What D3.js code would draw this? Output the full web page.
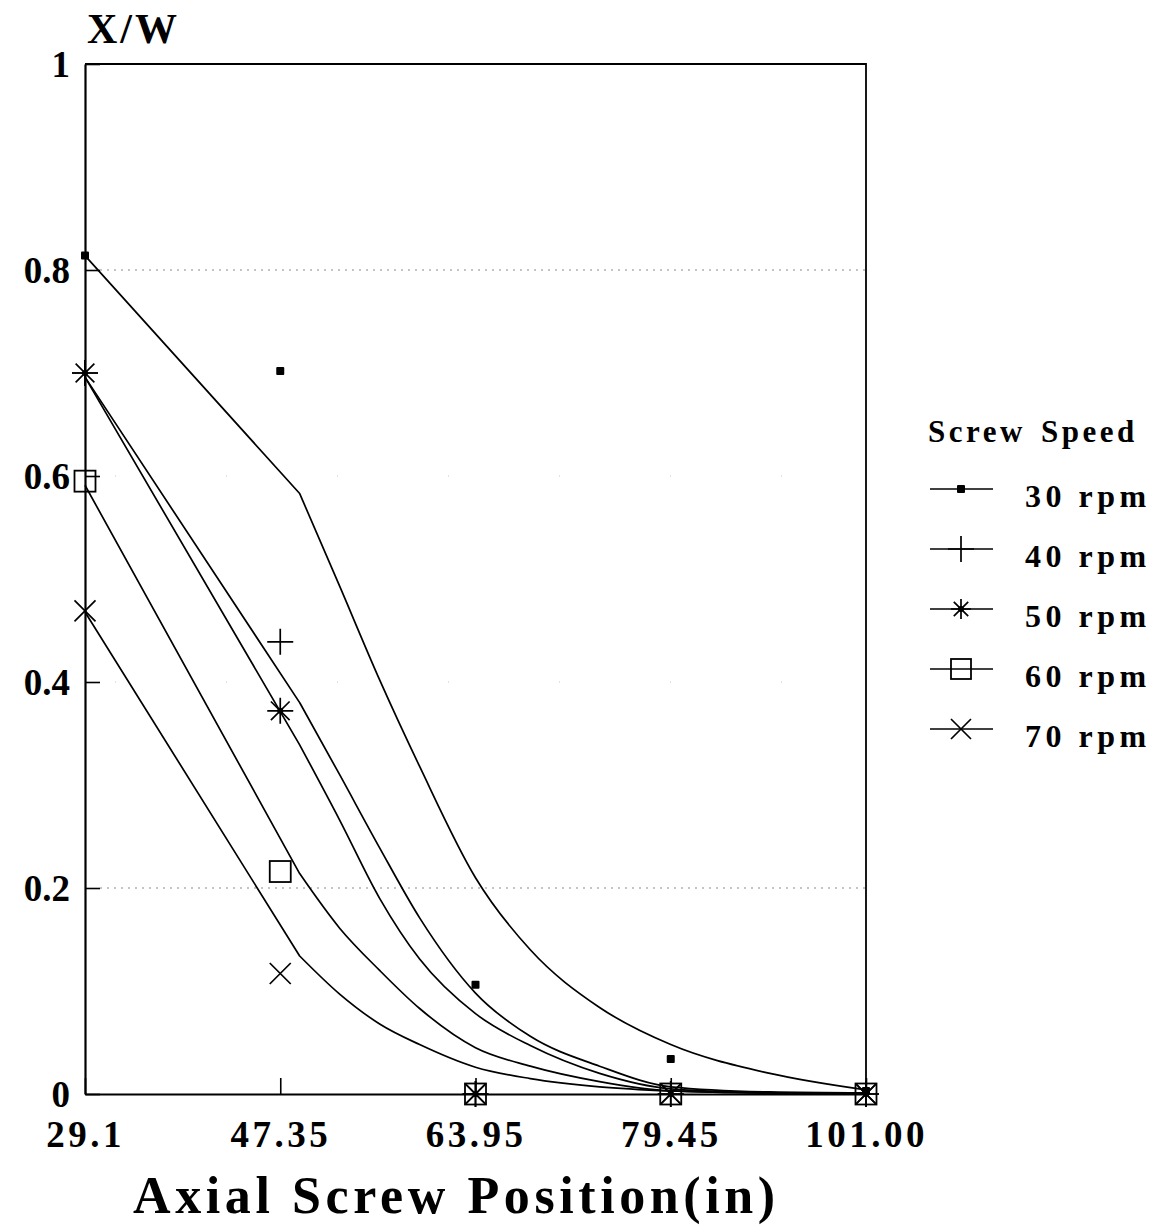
<!DOCTYPE html>
<html>
<head>
<meta charset="utf-8">
<script src="https://cdn.jsdelivr.net/npm/d3@7"></script>
<style>
  body { margin: 0; background: #fff; }
  svg { display: block; }
  text { font-family: "Liberation Serif", "Times New Roman", serif; font-weight: bold; fill: #000; }
</style>
</head>
<body>
<svg id="chart" width="1155" height="1229"></svg>
<script>
// Sampling positions along the screw (inches) and their axis labels
const positions = [29.1, 47.35, 63.95, 79.45, 101.00];
const positionLabels = ["29.1", "47.35", "63.95", "79.45", "101.00"];

// Legend entries
const speeds = ["30 rpm", "40 rpm", "50 rpm", "60 rpm", "70 rpm"];
const markerTypes = ["dot", "plus", "star", "square", "cross"];

// Measured X/W at each sampling position
const measured30 = [0.814, 0.702, 0.106, 0.034, 0.003];
const measured40 = [0.700, 0.439, 0.000, 0.000, 0.000];
const measured50 = [0.700, 0.372, 0.000, 0.000, 0.000];
const measured60 = [0.595, 0.216, 0.000, 0.000, 0.000];
const measured70 = [0.469, 0.117, 0.000, 0.000, 0.000];

// Model prediction, evaluated along the screw (linear up to 49 in, then decaying)
const modelX = [29.1, 49.0, 52.4, 55.8, 59.2, 63.95, 68.3, 73.8, 79.45, 90.4, 101.0];
const model30 = [0.814, 0.583, 0.493, 0.402, 0.318, 0.210, 0.140, 0.084, 0.048, 0.020, 0.004];
const model40 = [0.696, 0.380, 0.310, 0.239, 0.171, 0.098, 0.056, 0.027, 0.007, 0.002, 0.001];
const model50 = [0.696, 0.339, 0.266, 0.190, 0.131, 0.078, 0.047, 0.020, 0.005, 0.001, 0.000];
const model60 = [0.591, 0.214, 0.161, 0.120, 0.083, 0.045, 0.027, 0.012, 0.003, 0.001, 0.000];
const model70 = [0.468, 0.134, 0.097, 0.068, 0.048, 0.026, 0.015, 0.007, 0.003, 0.001, 0.000];

const yTicks = [0, 0.2, 0.4, 0.6, 0.8, 1];
const yTickLabels = ["0", "0.2", "0.4", "0.6", "0.8", "1"];
const gridValues = [0.2, 0.8];
const faintGridValues = [0.4, 0.6];

const measured = [measured30, measured40, measured50, measured60, measured70];
const models = [model30, model40, model50, model60, model70];

const svg = d3.select("#chart");
const plot = { left: 85, right: 866, top: 64, bottom: 1094 };

// Sampling positions are spaced evenly along the axis
const step = (plot.right - plot.left) / (positions.length - 1);
const x = d3.scaleLinear()
  .domain(positions)
  .range(positions.map((_, i) => plot.left + i * step));
const y = d3.scaleLinear().domain([0, 1]).range([plot.bottom, plot.top]);

// Dotted grid lines
svg.append("g").selectAll("line").data(gridValues).join("line")
  .attr("x1", plot.left + 15).attr("x2", plot.right)
  .attr("y1", d => y(d)).attr("y2", d => y(d))
  .attr("stroke", "#8a8a8a").attr("stroke-width", 1.2)
  .attr("stroke-dasharray", "2,5");
svg.append("g").selectAll("line").data(faintGridValues).join("line")
  .attr("x1", plot.left + 30).attr("x2", plot.right)
  .attr("y1", d => y(d)).attr("y2", d => y(d))
  .attr("stroke", "#c8c8c8").attr("stroke-width", 1)
  .attr("stroke-dasharray", "1,110");

// Y axis with inward ticks
const yAxis = svg.append("g")
  .attr("transform", `translate(${plot.left},0)`)
  .call(d3.axisLeft(y).tickValues(yTicks)
    .tickFormat((d, i) => yTickLabels[i])
    .tickSize(-15).tickSizeOuter(0).tickPadding(15));
yAxis.select(".domain").attr("stroke", "#000").attr("stroke-width", 2.2);
yAxis.selectAll(".tick line").attr("stroke", "#000").attr("stroke-width", 1.6);
yAxis.selectAll(".tick text")
  .attr("dy", "0.33em")
  .style("font-size", "37px")
  .style("font-family", "'Liberation Serif', serif")
  .style("font-weight", "bold")
  .attr("fill", "#000");

// X axis with inward ticks
const xAxis = svg.append("g")
  .attr("transform", `translate(0,${plot.bottom})`)
  .call(d3.axisBottom(x).tickValues(positions)
    .tickFormat((d, i) => positionLabels[i])
    .tickSize(-16).tickSizeOuter(0).tickPadding(27));
xAxis.select(".domain").attr("stroke", "#000").attr("stroke-width", 2.2);
xAxis.selectAll(".tick line").attr("stroke", "#000").attr("stroke-width", 1.6);
xAxis.selectAll(".tick text")
  .style("font-size", "37px")
  .style("font-family", "'Liberation Serif', serif")
  .style("font-weight", "bold")
  .style("letter-spacing", "3.5px")
  .attr("fill", "#000");

// Top and right frame
svg.append("path")
  .attr("d", `M${plot.left},${plot.top}H${plot.right}V${plot.bottom}`)
  .attr("fill", "none").attr("stroke", "#000").attr("stroke-width", 1.8);

// Model curves: straight feed section, then a smooth decay
const decay = d3.line()
  .x(d => x(d[0])).y(d => y(d[1]))
  .curve(d3.curveMonotoneX);
function modelPath(m) {
  const pts = modelX.map((px, i) => [px, m[i]]);
  const tail = decay(pts.slice(1));
  return `M${x(pts[0][0])},${y(pts[0][1])}L` + tail.slice(1);
}
svg.append("g").selectAll("path").data(models).join("path")
  .attr("d", modelPath)
  .attr("fill", "none").attr("stroke", "#000").attr("stroke-width", 1.7)
  .attr("stroke-linejoin", "round");

// Marker drawing
function drawMarker(g, type, s) {
  if (type === "dot") {
    g.append("rect").attr("x", -4).attr("y", -4).attr("width", 8).attr("height", 8)
      .attr("rx", 1).attr("fill", "#000");
  } else if (type === "plus") {
    g.append("path").attr("d", `M${-s},0H${s}M0,${-s}V${s}`)
      .attr("stroke", "#000").attr("stroke-width", 1.7).attr("fill", "none");
  } else if (type === "star") {
    const d = s * 0.72;
    g.append("path")
      .attr("d", `M${-s},0H${s}M0,${-s}V${s}M${-d},${-d}L${d},${d}M${-d},${d}L${d},${-d}`)
      .attr("stroke", "#000").attr("stroke-width", 1.7).attr("fill", "none");
    g.append("circle").attr("r", 3).attr("fill", "#000");
  } else if (type === "square") {
    g.append("rect").attr("x", -s).attr("y", -s).attr("width", 2 * s).attr("height", 2 * s)
      .attr("fill", "none").attr("stroke", "#000").attr("stroke-width", 1.8);
  } else if (type === "cross") {
    g.append("path").attr("d", `M${-s},${-s}L${s},${s}M${-s},${s}L${s},${-s}`)
      .attr("stroke", "#000").attr("stroke-width", 1.7).attr("fill", "none");
  }
}
const markerSize = { dot: 4, plus: 13, star: 13, square: 10.5, cross: 10.5 };

// Measured points
measured.forEach((series, si) => {
  const type = markerTypes[si];
  series.forEach((v, i) => {
    const g = svg.append("g").attr("transform", `translate(${x(positions[i])},${y(v)})`);
    drawMarker(g, type, markerSize[type]);
  });
});

// Y axis title
svg.append("text")
  .attr("x", 87).attr("y", 43)
  .style("font-size", "42px").style("letter-spacing", "3px")
  .text("X/W");

// X axis title
svg.append("text")
  .attr("x", 133).attr("y", 1213)
  .style("font-size", "52px").style("letter-spacing", "4.6px")
  .text("Axial Screw Position(in)");

// Legend
const legend = svg.append("g");
legend.append("text")
  .attr("x", 928).attr("y", 442)
  .style("font-size", "31px").style("letter-spacing", "3.5px").style("word-spacing", "4px")
  .text("Screw Speed");
const legendSize = { dot: 4, plus: 13, star: 10, square: 10, cross: 10 };
speeds.forEach((label, i) => {
  const base = 507 + i * 60;
  const cy = base - 18;
  legend.append("line")
    .attr("x1", 930).attr("x2", 993).attr("y1", cy).attr("y2", cy)
    .attr("stroke", "#000").attr("stroke-width", 1.7);
  const g = legend.append("g").attr("transform", `translate(961,${cy})`);
  drawMarker(g, markerTypes[i], legendSize[markerTypes[i]]);
  legend.append("text")
    .attr("x", 1025).attr("y", base)
    .style("font-size", "32px").style("letter-spacing", "4.5px")
    .text(label);
});
</script>
</body>
</html>
